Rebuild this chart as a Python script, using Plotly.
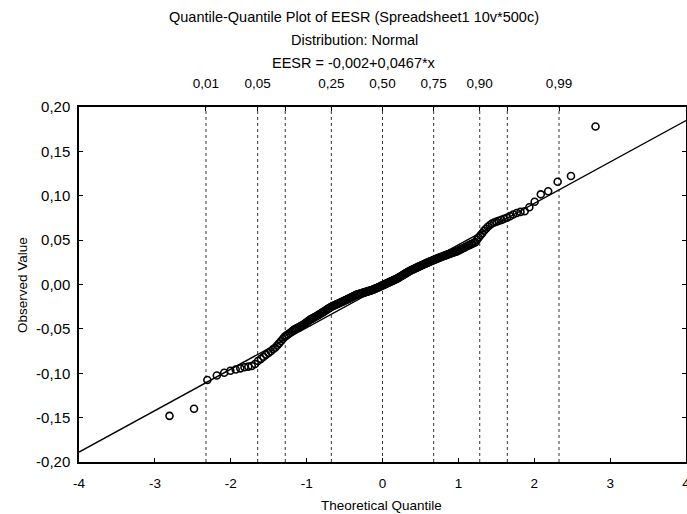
import plotly.graph_objects as go
from statistics import NormalDist

# Sorted observed EESR values (250 cases)
observed = [
    -0.1480, -0.1400, -0.1076, -0.1025, -0.0995, -0.0972, -0.0958, -0.0945, -0.0932, -0.0925,
    -0.0918, -0.0895, -0.0862, -0.0838, -0.0815, -0.0790, -0.0770, -0.0752, -0.0730, -0.0712,
    -0.0688, -0.0663, -0.0639, -0.0614, -0.0590, -0.0576, -0.0562, -0.0549, -0.0535, -0.0521,
    -0.0507, -0.0498, -0.0490, -0.0482, -0.0474, -0.0465, -0.0456, -0.0447, -0.0436, -0.0426,
    -0.0416, -0.0405, -0.0396, -0.0389, -0.0382, -0.0374, -0.0367, -0.0360, -0.0352, -0.0345,
    -0.0338, -0.0330, -0.0323, -0.0315, -0.0308, -0.0301, -0.0293, -0.0286, -0.0278, -0.0271,
    -0.0264, -0.0257, -0.0250, -0.0245, -0.0240, -0.0236, -0.0231, -0.0226, -0.0222, -0.0217,
    -0.0212, -0.0208, -0.0203, -0.0198, -0.0194, -0.0189, -0.0184, -0.0180, -0.0175, -0.0171,
    -0.0166, -0.0161, -0.0157, -0.0152, -0.0147, -0.0143, -0.0138, -0.0133, -0.0129, -0.0124,
    -0.0119, -0.0116, -0.0113, -0.0110, -0.0108, -0.0105, -0.0102, -0.0099, -0.0097, -0.0094,
    -0.0091, -0.0089, -0.0086, -0.0083, -0.0081, -0.0078, -0.0075, -0.0072, -0.0070, -0.0067,
    -0.0064, -0.0062, -0.0058, -0.0055, -0.0051, -0.0047, -0.0043, -0.0039, -0.0036, -0.0032,
    -0.0028, -0.0024, -0.0020, -0.0016, -0.0012, -0.0008, -0.0004, 0.0000, 0.0004, 0.0008,
    0.0012, 0.0016, 0.0020, 0.0024, 0.0028, 0.0032, 0.0036, 0.0040, 0.0044, 0.0048,
    0.0052, 0.0056, 0.0060, 0.0064, 0.0069, 0.0074, 0.0080, 0.0085, 0.0090, 0.0095,
    0.0101, 0.0106, 0.0112, 0.0117, 0.0122, 0.0128, 0.0133, 0.0139, 0.0144, 0.0150,
    0.0154, 0.0159, 0.0163, 0.0168, 0.0172, 0.0177, 0.0181, 0.0186, 0.0190, 0.0195,
    0.0199, 0.0204, 0.0208, 0.0213, 0.0217, 0.0222, 0.0226, 0.0231, 0.0235, 0.0240,
    0.0244, 0.0249, 0.0253, 0.0258, 0.0262, 0.0267, 0.0271, 0.0276, 0.0280, 0.0285,
    0.0289, 0.0294, 0.0298, 0.0303, 0.0307, 0.0312, 0.0316, 0.0321, 0.0325, 0.0330,
    0.0334, 0.0339, 0.0343, 0.0348, 0.0352, 0.0357, 0.0361, 0.0366, 0.0370, 0.0376,
    0.0383, 0.0390, 0.0397, 0.0405, 0.0412, 0.0420, 0.0428, 0.0436, 0.0444, 0.0452,
    0.0460, 0.0469, 0.0477, 0.0505, 0.0530, 0.0555, 0.0578, 0.0605, 0.0628, 0.0650,
    0.0670, 0.0688, 0.0698, 0.0708, 0.0718, 0.0728, 0.0740, 0.0752, 0.0770, 0.0788,
    0.0805, 0.0818, 0.0825, 0.0870, 0.0933, 0.1016, 0.1050, 0.1158, 0.1223, 0.1780,
]

# Fitted line: EESR = -0,002 + 0,0467*x
fit_intercept = -0.002
fit_slope = 0.0467

# Probability scale along the top axis
prob_levels = [0.01, 0.05, 0.10, 0.25, 0.50, 0.75, 0.90, 0.95, 0.99]
prob_labels = ["0,01", "0,05", "", "0,25", "0,50", "0,75", "0,90", "", "0,99"]

x_ticks = [-4, -3, -2, -1, 0, 1, 2, 3, 4]
y_ticks = [-0.20, -0.15, -0.10, -0.05, 0.00, 0.05, 0.10, 0.15, 0.20]

x_range = [-4, 4]
y_range = [-0.20, 0.20]

nd = NormalDist()
n = len(observed)
# Blom plotting positions
theoretical = [nd.inv_cdf((i + 1 - 0.375) / (n + 0.25)) for i in range(n)]
prob_z = [nd.inv_cdf(p) for p in prob_levels]

FONT = "Liberation Sans, Arial, sans-serif"

fig = go.Figure()

fig.add_trace(go.Scatter(
    x=theoretical, y=observed, mode="markers",
    marker=dict(symbol="circle-open", size=7, color="black", line=dict(width=1.6, color="black")),
    hoverinfo="skip", showlegend=False,
))

fig.add_trace(go.Scatter(
    x=x_range, y=[fit_intercept + fit_slope * v for v in x_range],
    mode="lines", line=dict(color="black", width=1.4),
    xaxis="x2", yaxis="y2", hoverinfo="skip", showlegend=False,
))

for z in prob_z:
    fig.add_shape(type="line", xref="x", yref="y", x0=z, x1=z, y0=y_range[0], y1=y_range[1],
                  line=dict(color="#333333", width=1, dash="dot"), layer="below")


def axis_style(size):
    return dict(showline=True, linecolor="black", linewidth=1.5, ticks="inside", ticklen=4,
                tickcolor="black", tickwidth=1, showgrid=False, zeroline=False,
                ticklabeloverflow="allow", automargin=False,
                tickfont=dict(family=FONT, size=size, color="black"))


fig.update_layout(
    width=687, height=514,
    margin=dict(l=79, r=1, t=107, b=52, autoexpand=False),
    paper_bgcolor="white", plot_bgcolor="white",
    font=dict(family=FONT, size=13, color="black"),
    xaxis=dict(range=x_range, tickvals=x_ticks, ticktext=[str(v) for v in x_ticks],
               ticklabelstandoff=8, **axis_style(13.5)),
    xaxis2=dict(range=x_range, overlaying="x", side="top", tickvals=prob_z, ticktext=prob_labels,
                ticklabelstandoff=12, **axis_style(13.5)),
    yaxis=dict(range=y_range, tickvals=y_ticks,
               ticktext=[f"{v:.2f}".replace(".", ",") for v in y_ticks],
               ticklabelstandoff=4, **axis_style(15)),
    yaxis2=dict(range=y_range, overlaying="y", side="right", tickvals=y_ticks, showticklabels=False,
                **axis_style(15)),
)

x_center = (354 - 79) / 607
titles = [
    ("Quantile-Quantile Plot of EESR (Spreadsheet1 10v*500c)", 1.2535),
    ("Distribution: Normal", 1.1887),
    ("EESR = -0,002+0,0467*x", 1.1239),
]
for text, yy in titles:
    fig.add_annotation(text=text, xref="paper", yref="paper", x=x_center, y=yy,
                       xanchor="center", yanchor="middle", showarrow=False,
                       font=dict(family=FONT, size=14.5, color="black"))

fig.add_annotation(text="Theoretical Quantile", xref="paper", yref="paper",
                   x=(381 - 79) / 607, y=(462 - 505) / 355, xanchor="center", yanchor="middle",
                   showarrow=False, font=dict(family=FONT, size=13.5, color="black"))
fig.add_annotation(text="Observed Value", xref="paper", yref="paper",
                   x=(22 - 79) / 607, y=(462 - 285) / 355, xanchor="center", yanchor="middle",
                   textangle=-90, showarrow=False, font=dict(family=FONT, size=13.5, color="black"))

fig.write_html("out.html")
